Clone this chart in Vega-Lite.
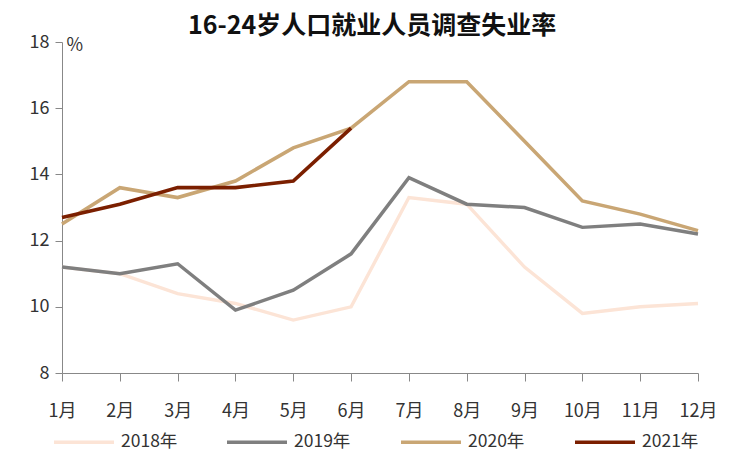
{
  "$schema": "https://vega.github.io/schema/vega-lite/v6.json",
  "autosize": {"type": "none"},
  "padding": {"left": 62, "top": 42, "right": 34, "bottom": 99},
  "width": 636,
  "height": 331,
  "background": "white",
  "config": {
    "font": "Noto Sans CJK SC",
    "view": {"stroke": null}
  },
  "title": {
    "text": "16-24岁人口就业人员调查失业率",
    "fontSize": 25,
    "fontWeight": "bold",
    "color": "#111111",
    "anchor": "middle",
    "dx": -8,
    "dy": 11,
    "offset": 5,
    "font": "Noto Sans CJK SC"
  },
  "data": {
    "values": [
      {"month": "1月", "year": "2018年", "rate": 11.2},
      {"month": "2月", "year": "2018年", "rate": 11.0},
      {"month": "3月", "year": "2018年", "rate": 10.4},
      {"month": "4月", "year": "2018年", "rate": 10.1},
      {"month": "5月", "year": "2018年", "rate": 9.6},
      {"month": "6月", "year": "2018年", "rate": 10.0},
      {"month": "7月", "year": "2018年", "rate": 13.3},
      {"month": "8月", "year": "2018年", "rate": 13.1},
      {"month": "9月", "year": "2018年", "rate": 11.2},
      {"month": "10月", "year": "2018年", "rate": 9.8},
      {"month": "11月", "year": "2018年", "rate": 10.0},
      {"month": "12月", "year": "2018年", "rate": 10.1},
      {"month": "1月", "year": "2019年", "rate": 11.2},
      {"month": "2月", "year": "2019年", "rate": 11.0},
      {"month": "3月", "year": "2019年", "rate": 11.3},
      {"month": "4月", "year": "2019年", "rate": 9.9},
      {"month": "5月", "year": "2019年", "rate": 10.5},
      {"month": "6月", "year": "2019年", "rate": 11.6},
      {"month": "7月", "year": "2019年", "rate": 13.9},
      {"month": "8月", "year": "2019年", "rate": 13.1},
      {"month": "9月", "year": "2019年", "rate": 13.0},
      {"month": "10月", "year": "2019年", "rate": 12.4},
      {"month": "11月", "year": "2019年", "rate": 12.5},
      {"month": "12月", "year": "2019年", "rate": 12.2},
      {"month": "1月", "year": "2020年", "rate": 12.5},
      {"month": "2月", "year": "2020年", "rate": 13.6},
      {"month": "3月", "year": "2020年", "rate": 13.3},
      {"month": "4月", "year": "2020年", "rate": 13.8},
      {"month": "5月", "year": "2020年", "rate": 14.8},
      {"month": "6月", "year": "2020年", "rate": 15.4},
      {"month": "7月", "year": "2020年", "rate": 16.8},
      {"month": "8月", "year": "2020年", "rate": 16.8},
      {"month": "9月", "year": "2020年", "rate": 15.0},
      {"month": "10月", "year": "2020年", "rate": 13.2},
      {"month": "11月", "year": "2020年", "rate": 12.8},
      {"month": "12月", "year": "2020年", "rate": 12.3},
      {"month": "1月", "year": "2021年", "rate": 12.7},
      {"month": "2月", "year": "2021年", "rate": 13.1},
      {"month": "3月", "year": "2021年", "rate": 13.6},
      {"month": "4月", "year": "2021年", "rate": 13.6},
      {"month": "5月", "year": "2021年", "rate": 13.8},
      {"month": "6月", "year": "2021年", "rate": 15.4}
    ]
  },
  "mark": {"type": "line", "strokeCap": "butt", "strokeJoin": "miter"},
  "encoding": {
    "x": {
      "field": "month",
      "type": "ordinal",
      "sort": null,
      "scale": {"type": "point", "padding": 0},
      "axis": {
        "title": null,
        "labelAngle": 0,
        "labelFontSize": 18,
        "labelColor": "#333333",
        "labelPadding": 21,
        "tickSize": 8,
        "tickColor": "#888888",
        "domainColor": "#888888",
        "grid": false
      }
    },
    "y": {
      "field": "rate",
      "type": "quantitative",
      "scale": {"domain": [8, 18], "nice": false, "zero": false},
      "axis": {
        "values": [8, 10, 12, 14, 16, 18],
        "grid": false,
        "title": "%",
        "titleAngle": 0,
        "titleX": 4,
        "titleY": -6,
        "titleAlign": "left",
        "titleBaseline": "top",
        "titleFontSize": 18,
        "titleFontWeight": "normal",
        "titleColor": "#333333",
        "labelFontSize": 18,
        "labelColor": "#333333",
        "labelPadding": 6,
        "tickSize": 7,
        "tickColor": "#888888",
        "domainColor": "#888888"
      }
    },
    "color": {
      "field": "year",
      "type": "nominal",
      "scale": {
        "domain": ["2018年", "2019年", "2020年", "2021年"],
        "range": ["#FCE4D6", "#7F7F7F", "#C9A674", "#7B1F00"]
      },
      "legend": {
        "title": null,
        "orient": "none",
        "direction": "horizontal",
        "legendX": -10,
        "legendY": 368,
        "symbolType": "stroke",
        "symbolSize": 3600,
        "labelFontSize": 17.5,
        "labelColor": "#333333",
        "labelOffset": 5,
        "columnPadding": 42
      }
    },
    "strokeWidth": {
      "field": "year",
      "type": "nominal",
      "scale": {
        "domain": ["2018年", "2019年", "2020年", "2021年"],
        "range": [3.4, 3.6, 3.6, 6]
      },
      "legend": {
        "title": null,
        "orient": "none",
        "direction": "horizontal",
        "legendX": -10,
        "legendY": 368,
        "symbolType": "stroke",
        "symbolSize": 3600,
        "labelFontSize": 17.5,
        "labelColor": "#333333",
        "labelOffset": 5,
        "columnPadding": 42
      }
    }
  }
}
